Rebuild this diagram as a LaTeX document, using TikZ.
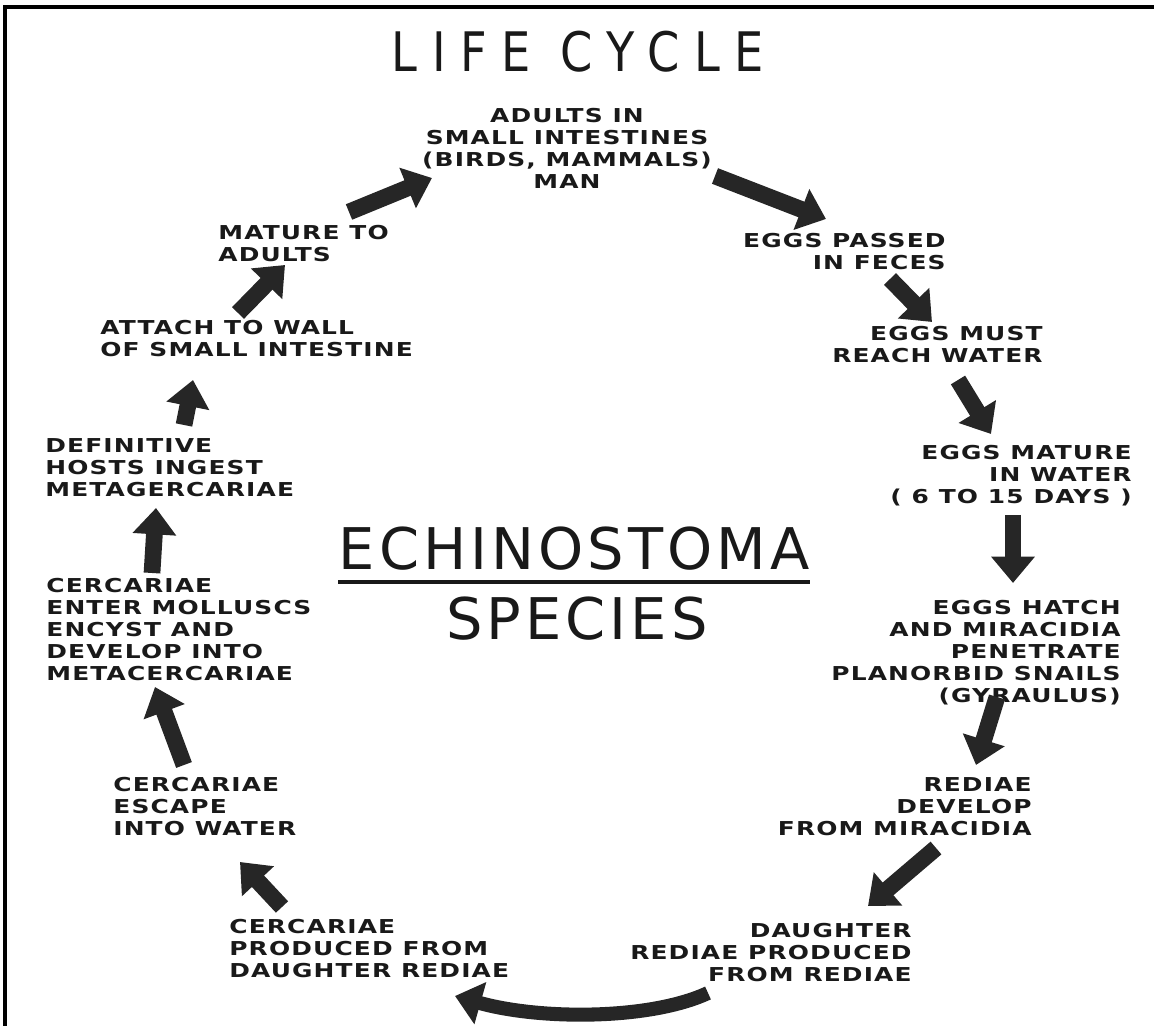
\documentclass[tikz,border=0pt]{standalone}
\usepackage{fontspec}
\setmainfont{DejaVu Sans}
\newfontfamily\letterfont[FakeStretch=1.3,LetterSpace=6]{DejaVu Sans}
\newfontfamily\headfont[FakeStretch=0.85,LetterSpace=27]{DejaVu Sans}
\newfontfamily\namefont[LetterSpace=7]{DejaVu Sans}
\usetikzlibrary{arrows.meta}

\begin{document}
\begin{tikzpicture}[x=0.02cm,y=-0.02cm,
  lbl/.style={font=\letterfont\bfseries\fontsize{10.9pt}{12.5pt}\selectfont,inner sep=0pt,text=black!90},
  lft/.style={lbl,anchor=north west,align=left},
  rgt/.style={lbl,anchor=north east,align=right},
  blk/.style={line width=9.5pt,draw=black!85,line cap=butt,-{Triangle[length=15pt,width=24pt]}},
  big/.style={font=\namefont\fontsize{32.7pt}{36pt}\selectfont,inner sep=0pt,text=black!90}]
\useasboundingbox (0,0) rectangle (1154,1026);
\draw[line width=2.3pt] (5,1026) -- (5,7) -- (1154,7);

\node[font=\headfont\fontsize{31pt}{34pt}\selectfont,inner sep=0pt,text=black!90] (title) at (578,52) {LIFE CYCLE};
\node[big] (echino) at (574,549) {ECHINOSTOMA};
\draw[line width=2.2pt,black!90] ([yshift=-7pt]echino.base west) -- ([yshift=-7pt]echino.base east);
\node[big] (species) at (577,619) {SPECIES};

\node[lbl,anchor=north,align=center] (adults) at (567,108) {ADULTS IN\\SMALL INTESTINES\\(BIRDS, MAMMALS)\\MAN};
\node[rgt] (passed) at (946,233) {EGGS PASSED\\IN FECES};
\node[rgt] (reach) at (1043,326) {EGGS MUST\\REACH WATER};
\node[rgt] (ripen) at (1132,445) {EGGS MATURE\\IN WATER\\( 6 TO 15 DAYS )};
\node[rgt] (hatch) at (1121,600) {EGGS HATCH\\AND MIRACIDIA\\PENETRATE\\PLANORBID SNAILS\\(GYRAULUS)};
\node[rgt] (rediae) at (1032,777) {REDIAE\\DEVELOP\\FROM MIRACIDIA};
\node[rgt] (daughter) at (912,923) {DAUGHTER\\REDIAE PRODUCED\\FROM REDIAE};
\node[lft] (produced) at (229,919) {CERCARIAE\\PRODUCED FROM\\DAUGHTER REDIAE};
\node[lft] (escape) at (113,777) {CERCARIAE\\ESCAPE\\INTO WATER};
\node[lft] (encyst) at (46,578) {CERCARIAE\\ENTER MOLLUSCS\\ENCYST AND\\DEVELOP INTO\\METACERCARIAE};
\node[lft] (ingest) at (45,438) {DEFINITIVE\\HOSTS INGEST\\METAGERCARIAE};
\node[lft] (attach) at (100,320) {ATTACH TO WALL\\OF SMALL INTESTINE};
\node[lft] (grow) at (218,225) {MATURE TO\\ADULTS};

\coordinate (s1) at (349,212);  \coordinate (e1) at (432,178);
\coordinate (s2) at (715,176);  \coordinate (e2) at (826,219);
\coordinate (s3) at (890,279);  \coordinate (e3) at (932,322);
\coordinate (s4) at (958,380);  \coordinate (e4) at (991,434);
\coordinate (s5) at (1013,515); \coordinate (e5) at (1013,583);
\coordinate (s6) at (997,697);  \coordinate (e6) at (976,765);
\coordinate (s7) at (936,848);  \coordinate (e7) at (868,906);
\coordinate (s8) at (708,993);  \coordinate (e8) at (455,996);
\coordinate (s9) at (282,907);  \coordinate (e9) at (240,862);
\coordinate (s10) at (184,765); \coordinate (e10) at (155,687);
\coordinate (s11) at (152,573); \coordinate (e11) at (156,508);
\coordinate (s12) at (184,425); \coordinate (e12) at (193,380);
\coordinate (s13) at (238,313); \coordinate (e13) at (285,265);
\foreach \i in {1,...,7,9,10,...,13} \draw[blk] (s\i) -- (e\i);
\draw[blk,line width=8pt] (s8) .. controls (650,1020) and (540,1020) .. (e8);
\end{tikzpicture}
\end{document}
